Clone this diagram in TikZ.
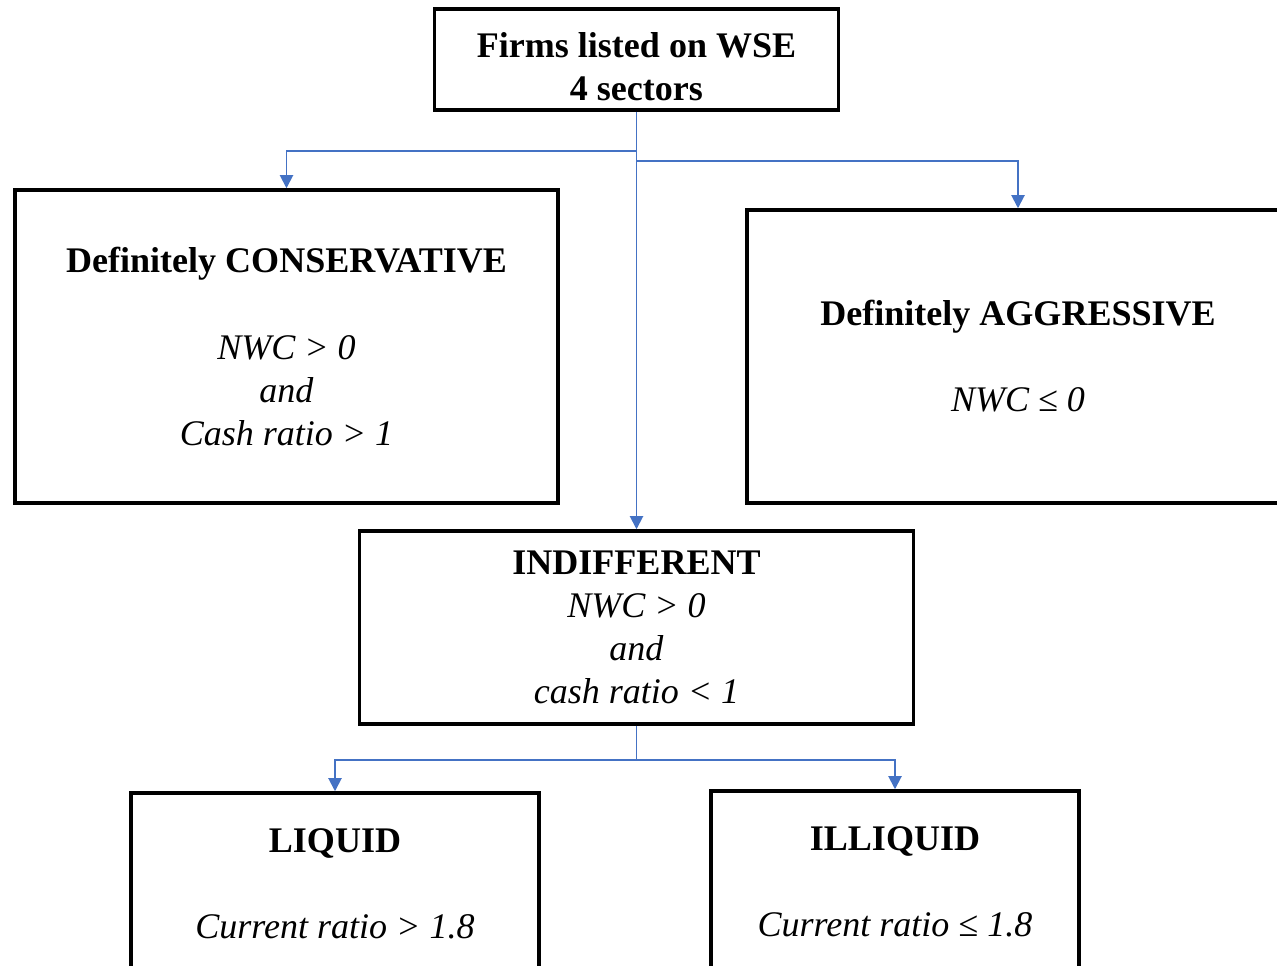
\documentclass[tikz,border=0pt]{standalone}
\usepackage{fontspec}
\setmainfont{Liberation Serif}
\usetikzlibrary{arrows.meta}
\definecolor{linkblue}{HTML}{4472C4}
\begin{document}
\begin{tikzpicture}[>={Triangle[width=7.5pt,length=7.5pt]},
  catbox/.style={draw,line width=2pt,align=center,inner sep=0pt,font=\fontsize{20.5}{24.5}\selectfont},
  link/.style={->,draw=linkblue,line width=1.1pt}]
  \useasboundingbox (0,0) rectangle (25.54,-19.3);
  \node[catbox,minimum width=8.08cm,minimum height=2.02cm] (f) at (12.73,-1.19) {\rule{0pt}{0.8cm}\textbf{Firms listed on WSE}\\\textbf{4 sectors}};
  \node[catbox,minimum width=10.86cm,minimum height=6.26cm] (c) at (5.73,-6.93) {\textbf{Definitely CONSERVATIVE}\\[24.5pt]\textit{NWC > 0}\\\textit{and}\\\textit{Cash ratio > 1}};
  \node[catbox,minimum width=10.84cm,minimum height=5.86cm] (g) at (20.36,-7.13) {\textbf{Definitely AGGRESSIVE}\\[24.5pt]\textit{NWC ≤ 0}};
  \node[catbox,minimum width=11.08cm,minimum height=3.86cm] (i) at (12.73,-12.55) {\textbf{INDIFFERENT}\\\textit{NWC > 0}\\\textit{and}\\\textit{cash ratio < 1}};
  \node[catbox,minimum width=8.16cm,minimum height=3.62cm] (l) at (6.70,-17.67) {\textbf{LIQUID}\\[24.5pt]\textit{Current ratio > 1.8}};
  \node[catbox,minimum width=7.36cm,minimum height=3.62cm] (n) at (17.90,-17.63) {\textbf{ILLIQUID}\\[24.5pt]\textit{Current ratio ≤ 1.8}};
  \coordinate (jl) at (5.73,-3.02);
  \coordinate (jr) at (20.36,-3.22);
  \coordinate (kl) at (6.70,-15.2);
  \coordinate (kr) at (17.90,-15.2);
  \draw[link] (f) -- (i);
  \draw[link] (f.south) |- (jl) -- (c.north);
  \draw[link] (f.south) |- (jr) -- (g.north);
  \draw[link] (i.south) |- (kl) -- (l.north);
  \draw[link] (i.south) |- (kr) -- (n.north);
\end{tikzpicture}
\end{document}
